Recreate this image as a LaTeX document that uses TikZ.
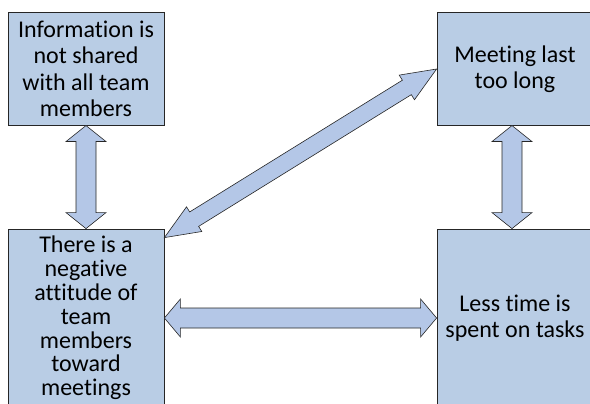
\documentclass[tikz,border=0pt]{standalone}
\usepackage{fontspec}
\setmainfont{Carlito}[Ligatures=NoCommon]
\usetikzlibrary{calc}

\definecolor{boxblue}{RGB}{185,205,229}
\definecolor{arrowblue}{RGB}{180,199,231}

\tikzset{
  issue/.style={rectangle, draw=black!85, line width=0.8pt, fill=boxblue,
    minimum width=156pt, align=center, inner sep=2pt,
    font=\fontsize{24}{26.5}\selectfont},
  blockarrow/.style={fill=arrowblue, draw=black!85, line width=0.6pt, line join=miter}
}

% double block arrow: from, to, head length, head half width, shaft half width
\newcommand{\dblarrow}[5]{%
  \coordinate (ha) at ($(#1)!#3!(#2)$);
  \coordinate (hb) at ($(#2)!#3!(#1)$);
  \draw[blockarrow] (#1) -- ($(ha)!#4!90:(#2)$) -- ($(ha)!#5!90:(#2)$)
    -- ($(hb)!#5!-90:(#1)$) -- ($(hb)!#4!-90:(#1)$) -- (#2)
    -- ($(hb)!#4!90:(#1)$) -- ($(hb)!#5!90:(#1)$)
    -- ($(ha)!#5!-90:(#2)$) -- ($(ha)!#4!-90:(#2)$) -- cycle;
}

\begin{document}
\begin{tikzpicture}[x=1pt, y=-1pt]
  \useasboundingbox (0,0) rectangle (590,404);
  \clip (0,0) rectangle (590,404);

  % Top row
  \node[issue, minimum height=112.3pt] (info) at (86, 69)
    {Information is\\not shared\\with all team\\members};
  \node[issue, minimum height=112.3pt] (meet) at (515, 69)
    {Meeting last\\too long};

  % Bottom row
  \node[issue, minimum height=178pt, font=\fontsize{24}{23.8}\selectfont] (neg) at (86, 318)
    {There is a\\negative\\attitude of\\team\\members\\toward\\meetings};
  \node[issue, minimum height=178pt] (less) at (515, 318)
    {Less time is\\spent on tasks};

  % Arrow ends
  \coordinate (negtip) at ($(neg.north east)+(0,9)$);
  \coordinate (meettip) at ($(meet.south)+(-3,0)$);
  \coordinate (lesstip) at ($(less.north)+(-3,0)$);

  % Arrows between the issues
  \dblarrow{info.south}{neg.north}{16pt}{20pt}{10pt}
  \dblarrow{meettip}{lesstip}{16pt}{20pt}{10pt}
  \dblarrow{neg.east}{less.west}{16pt}{19pt}{10pt}
  \dblarrow{negtip}{meet.west}{35pt}{14.5pt}{8.5pt}

\end{tikzpicture}
\end{document}
